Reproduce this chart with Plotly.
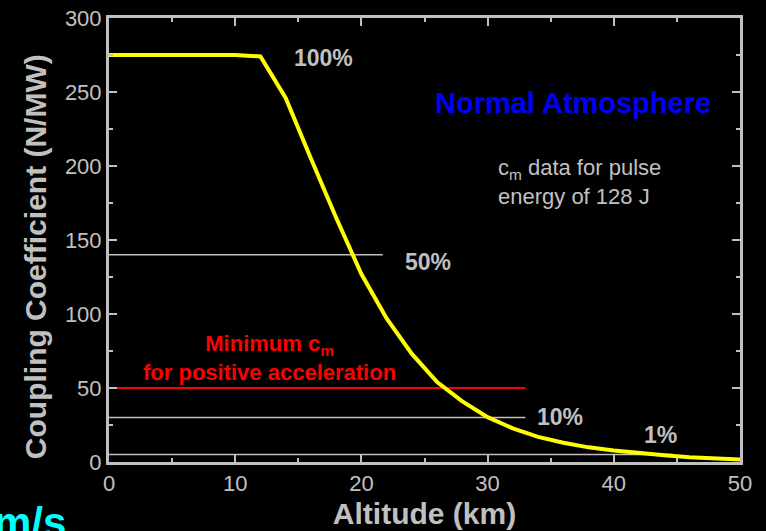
import plotly.graph_objects as go

# Coupling coefficient vs altitude (normal atmosphere, 128 J pulses)
altitude_km = [0, 10, 12, 14, 16, 18, 20, 22, 24, 26, 28, 30, 32, 34, 36, 38,
               40, 42, 44, 46, 48, 50]
coupling_n_per_mw = [275, 275, 274, 246, 205, 165, 127, 97, 73, 54, 41, 30.3,
                     22.7, 17, 13, 9.9, 7.8, 6, 4.5, 3.2, 2.4, 1.7]

# Reference levels: value, end altitude, label and label position
ref_values = [140, 30, 5]
ref_ends = [21.7, 33, 44.7]
ref_labels = ["50%", "10%", "1%"]
ref_label_x = [25.3, 35.7, 43.7]
ref_label_y = [135, 30.6, 18]

min_cm_value = 50
min_cm_end = 33

x_ticks = [0, 10, 20, 30, 40, 50]
y_ticks = [0, 50, 100, 150, 200, 250, 300]

FONT = "Arial, Liberation Sans, sans-serif"
GRAY = "#c0c0c0"

fig = go.Figure()

# Reference lines
for v, e in zip(ref_values, ref_ends):
    fig.add_trace(go.Scatter(x=[0, e], y=[v, v], mode="lines",
                             line=dict(color=GRAY, width=1.5),
                             hoverinfo="skip", showlegend=False))
fig.add_trace(go.Scatter(x=[0, min_cm_end], y=[min_cm_value, min_cm_value],
                         mode="lines", line=dict(color="#ff0000", width=2),
                         hoverinfo="skip", showlegend=False))

# Measured curve
fig.add_trace(go.Scatter(x=altitude_km, y=coupling_n_per_mw, mode="lines",
                         line=dict(color="#ffff00", width=4),
                         showlegend=False, cliponaxis=False))

annotations = []
annotations.append(dict(x=17, y=273, text="<b>100%</b>", showarrow=False,
                        font=dict(family=FONT, size=23, color=GRAY)))
for lx, ly, lt in zip(ref_label_x, ref_label_y, ref_labels):
    annotations.append(dict(x=lx, y=ly, text=f"<b>{lt}</b>", showarrow=False,
                            font=dict(family=FONT, size=23, color=GRAY)))
annotations.append(dict(x=36.8, y=242.8, text="<b>Normal Atmosphere</b>",
                        showarrow=False,
                        font=dict(family=FONT, size=29, color="#0000ff")))
annotations.append(dict(x=30.67, y=189, xanchor="left", align="left",
                        text="c<sub>m</sub> data for pulse<br>energy of 128 J",
                        showarrow=False,
                        font=dict(family=FONT, size=22, color=GRAY)))
annotations.append(dict(x=12.75, y=70.5,
                        text="<b>Minimum c<sub>m</sub><br>for positive acceleration</b>",
                        showarrow=False,
                        font=dict(family=FONT, size=22, color="#ff0000")))
# Y axis title (offset along the axis)
annotations.append(dict(xref="paper", yref="paper", x=-0.117, y=0.4617,
                        xanchor="center", yanchor="middle",
                        text="<b>Coupling Coefficient (N/MW)</b>",
                        textangle=-90, showarrow=False,
                        font=dict(family=FONT, size=30, color=GRAY)))
# Trailing slide text at the lower left
annotations.append(dict(xref="paper", yref="paper", x=-0.065, y=-0.078,
                        xanchor="right", yanchor="top", text="<b>m/s</b>",
                        showarrow=False,
                        font=dict(family=FONT, size=42, color="#00ffff")))

axis_common = dict(
    showline=True, linecolor=GRAY, linewidth=3, mirror="ticks",
    ticks="inside", ticklen=8, tickwidth=2, tickcolor=GRAY,
    showgrid=False, zeroline=False, automargin=False,
    tickfont=dict(family=FONT, size=22, color=GRAY),
)

fig.update_layout(
    width=766, height=531,
    paper_bgcolor="#000000", plot_bgcolor="#000000",
    margin=dict(l=109, r=26, t=18, b=69),
    annotations=annotations,
    xaxis=dict(range=[0, 50], tickvals=x_ticks,
               minor=dict(ticks="inside", ticklen=4, tickwidth=2,
                          tickcolor=GRAY, dtick=5, tick0=0),
               title=dict(text="<b>Altitude (km)</b>", standoff=8,
                          font=dict(family=FONT, size=30, color=GRAY)),
               **axis_common),
    yaxis=dict(range=[0, 300], tickvals=y_ticks,
               minor=dict(ticks="inside", ticklen=4, tickwidth=2,
                          tickcolor=GRAY, dtick=25, tick0=0),
               **axis_common),
)

fig.write_html("out.html")
